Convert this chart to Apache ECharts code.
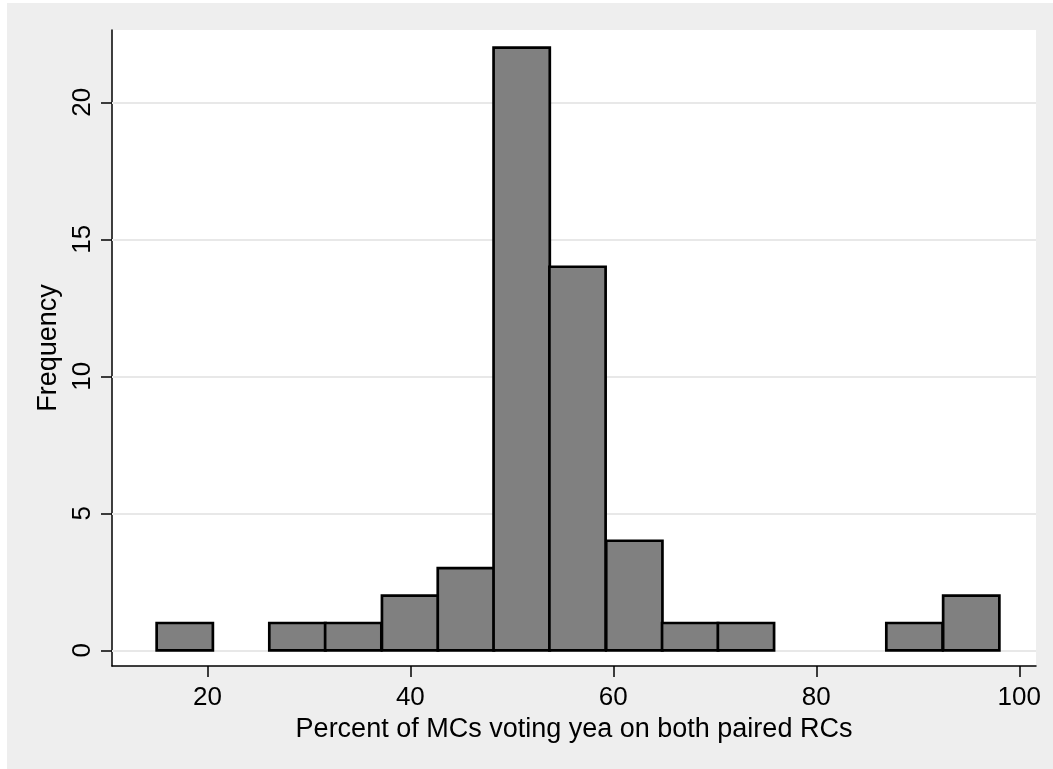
<!DOCTYPE html>
<html>
<head>
<meta charset="utf-8">
<script src="https://cdn.jsdelivr.net/npm/echarts@6/dist/echarts.min.js"></script>
<style>
  html, body { margin: 0; padding: 0; background: #fff; }
  #chart { width: 1053px; height: 769px; }
</style>
</head>
<body>
<div id="chart"></div>
<script>
// histogram bins (lower edges) and counts
var binLows = [15.0, 20.5, 26.1, 31.6, 37.2, 42.7, 48.2, 53.7, 59.3, 64.8, 70.3, 75.9, 81.4, 86.9, 92.5];
var binWidth = 5.54;
var counts = [1, 0, 1, 1, 2, 3, 22, 14, 4, 1, 1, 0, 0, 1, 2];
var xTicks = [20, 40, 60, 80, 100];
var yTicks = [0, 5, 10, 15, 20];

var font = 'Liberation Sans, Arial, sans-serif';
var chart = echarts.init(document.getElementById('chart'));

var data = [];
for (var i = 0; i < counts.length; i++) {
  if (counts[i] > 0) data.push([binLows[i], binLows[i] + binWidth, counts[i]]);
}

var option = {
  animation: false,
  backgroundColor: '#fff',
  graphic: [{
    type: 'rect', z: -10, silent: true,
    shape: { x: 7, y: 3, width: 1053, height: 769 },
    style: { fill: '#eeeeee' }
  }],
  grid: {
    left: 112, top: 30, right: 17, bottom: 103,
    show: true, backgroundColor: '#fff', borderWidth: 0
  },
  xAxis: {
    type: 'value',
    min: 10.6, max: 101.65,
    name: 'Percent of MCs voting yea on both paired RCs',
    nameLocation: 'middle',
    nameGap: 45,
    nameTextStyle: { color: '#000', fontSize: 27, fontFamily: font },
    axisLine: { show: true, onZero: false, lineStyle: { color: '#000', width: 1.5 } },
    axisTick: { show: true, length: 11, customValues: xTicks, lineStyle: { color: '#000', width: 1.5 } },
    axisLabel: { customValues: xTicks, margin: 19, color: '#000', fontSize: 26, fontFamily: font },
    splitLine: { show: false }
  },
  yAxis: {
    type: 'value',
    min: -0.57, max: 22.64,
    name: 'Frequency',
    nameLocation: 'middle',
    nameGap: 42,
    nameRotate: 90,
    nameTextStyle: { color: '#000', fontSize: 27, fontFamily: font },
    axisLine: { show: true, onZero: false, lineStyle: { color: '#000', width: 1.5 } },
    axisTick: { show: true, length: 11, customValues: yTicks, lineStyle: { color: '#000', width: 1.5 } },
    axisLabel: { customValues: yTicks, rotate: 90, margin: 16, color: '#000', fontSize: 26, fontFamily: font },
    splitLine: { show: false }
  },
  series: [{
    type: 'custom',
    z: 10,
    data: data,
    encode: { x: [0, 1], y: 2 },
    renderItem: function (params, api) {
      var p0 = api.coord([api.value(0), api.value(2)]);
      var p1 = api.coord([api.value(1), 0]);
      return {
        type: 'rect',
        shape: { x: p0[0], y: p0[1], width: p1[0] - p0[0], height: p1[1] - p0[1] },
        style: { fill: '#808080', stroke: '#000', lineWidth: 2.7 }
      };
    },
    markLine: {
      silent: true,
      symbol: 'none',
      z: 1,
      label: { show: false },
      lineStyle: { color: '#e8e8e8', width: 2, type: 'solid' },
      data: yTicks.map(function (v) { return { yAxis: v }; })
    }
  }]
};
chart.setOption(option);
</script>
</body>
</html>
